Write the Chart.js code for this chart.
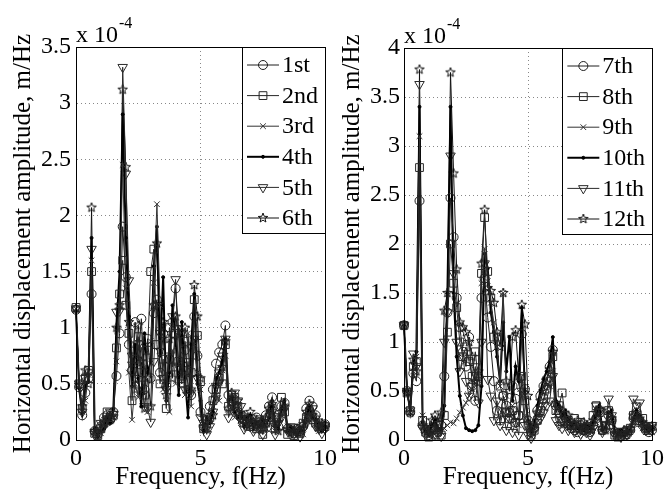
<!DOCTYPE html>
<html>
<head>
<meta charset="utf-8">
<script src="https://cdn.jsdelivr.net/npm/chart.js@4.4.0/dist/chart.umd.min.js"></script>
<style>
body { margin: 0; background: #fff; }
#wrap { position: relative; width: 665px; height: 493px; overflow: hidden; background: #fff; }
canvas { position: absolute; top: 0; }
#left { left: 0; }
#right { left: 332px; }
</style>
</head>
<body>
<div id="wrap">
<canvas id="left" width="345" height="493"></canvas>
<canvas id="right" width="333" height="493"></canvas>
</div>
<script>
// frequency axis, Hz
var freq = [0, 0.125, 0.25, 0.375, 0.5, 0.625, 0.75, 0.875, 1, 1.125,
  1.25, 1.375, 1.5, 1.625, 1.75, 1.875, 2, 2.125, 2.25, 2.375,
  2.5, 2.625, 2.75, 2.875, 3, 3.125, 3.25, 3.375, 3.5, 3.625,
  3.75, 3.875, 4, 4.125, 4.25, 4.375, 4.5, 4.625, 4.75, 4.875,
  5, 5.125, 5.25, 5.375, 5.5, 5.625, 5.75, 5.875, 6, 6.125,
  6.25, 6.375, 6.5, 6.625, 6.75, 6.875, 7, 7.125, 7.25, 7.375,
  7.5, 7.625, 7.75, 7.875, 8, 8.125, 8.25, 8.375, 8.5, 8.625,
  8.75, 8.875, 9, 9.125, 9.25, 9.375, 9.5, 9.625, 9.75, 9.875, 10];

// amplitudes in units of 1e-4 m/Hz
var run1 = [1.16, 0.47, 0.22, 0.42, 0.55, 1.30, 0.08, 0.05, 0.12, 0.20,
  0.22, 0.18, 0.25, 0.57, 0.95, 1.90, 1.45, 0.85, 0.62, 1.05,
  0.70, 1.08, 0.45, 0.90, 0.55, 1.13, 1.25, 0.60, 0.95, 0.48,
  0.72, 1.05, 1.35, 0.98, 0.55, 0.80, 0.62, 0.40, 1.10, 0.75,
  0.25, 0.12, 0.18, 0.30, 0.45, 0.68, 0.78, 0.85, 1.02, 0.40,
  0.35, 0.30, 0.25, 0.20, 0.18, 0.15, 0.17, 0.12, 0.20, 0.16,
  0.10, 0.22, 0.30, 0.38, 0.15, 0.12, 0.30, 0.33, 0.10, 0.08,
  0.06, 0.10, 0.08, 0.12, 0.28, 0.35, 0.30, 0.22, 0.15, 0.12, 0.14];
var run2 = [1.18, 0.50, 0.28, 0.55, 0.62, 1.50, 0.06, 0.04, 0.10, 0.15,
  0.25, 0.20, 0.22, 0.82, 1.30, 1.60, 1.20, 0.95, 0.35, 0.72,
  0.92, 0.60, 0.40, 0.80, 1.50, 1.70, 0.85, 0.50, 0.72, 0.28,
  1.00, 0.65, 0.95, 0.70, 0.50, 0.88, 0.45, 0.60, 1.25, 0.93,
  0.52, 0.10, 0.15, 0.20, 0.35, 0.45, 0.55, 0.50, 0.85, 0.30,
  0.40, 0.38, 0.30, 0.22, 0.15, 0.18, 0.12, 0.14, 0.10, 0.18,
  0.05, 0.15, 0.20, 0.28, 0.10, 0.20, 0.38, 0.25, 0.05, 0.10,
  0.04, 0.08, 0.06, 0.15, 0.20, 0.25, 0.18, 0.15, 0.12, 0.10, 0.12];
var run3 = [1.17, 0.48, 0.25, 0.35, 0.58, 1.60, 0.05, 0.08, 0.06, 0.18,
  0.15, 0.22, 0.20, 0.70, 1.20, 2.45, 1.35, 0.60, 0.18, 0.50,
  0.38, 0.82, 0.65, 0.25, 0.88, 1.40, 2.10, 1.20, 0.45, 0.60,
  0.25, 0.80, 0.50, 1.00, 0.70, 0.40, 0.95, 0.30, 0.85, 0.60,
  0.45, 0.15, 0.08, 0.22, 0.30, 0.40, 0.35, 0.62, 0.75, 0.25,
  0.30, 0.20, 0.28, 0.15, 0.20, 0.10, 0.15, 0.18, 0.08, 0.12,
  0.15, 0.10, 0.25, 0.20, 0.08, 0.15, 0.22, 0.30, 0.12, 0.05,
  0.10, 0.06, 0.12, 0.05, 0.22, 0.18, 0.25, 0.15, 0.08, 0.12, 0.10];
var run4 = [1.15, 0.46, 0.24, 0.48, 0.52, 1.80, 0.10, 0.03, 0.08, 0.10,
  0.20, 0.15, 0.28, 1.00, 1.50, 2.90, 1.80, 1.10, 0.48, 0.85,
  0.55, 0.30, 0.95, 0.60, 0.70, 1.55, 1.90, 0.75, 1.45, 0.35,
  0.60, 1.20, 0.90, 0.40, 1.05, 0.55, 0.20, 0.85, 1.30, 0.50,
  0.35, 0.08, 0.20, 0.15, 0.25, 0.55, 0.60, 0.70, 0.90, 0.35,
  0.38, 0.25, 0.20, 0.25, 0.12, 0.20, 0.22, 0.10, 0.15, 0.12,
  0.18, 0.12, 0.20, 0.35, 0.12, 0.10, 0.28, 0.35, 0.08, 0.12,
  0.08, 0.04, 0.10, 0.08, 0.20, 0.30, 0.20, 0.18, 0.10, 0.08, 0.12];
var run5 = [1.17, 0.50, 0.25, 0.55, 0.60, 1.70, 0.05, 0.06, 0.15, 0.12,
  0.18, 0.25, 0.20, 1.14, 1.15, 3.32, 2.37, 1.42, 0.75, 0.55,
  0.85, 0.50, 0.30, 0.28, 0.16, 0.70, 1.20, 0.95, 0.55, 0.45,
  0.75, 1.10, 1.43, 0.65, 0.95, 0.45, 0.70, 0.42, 0.90, 0.55,
  0.20, 0.15, 0.05, 0.12, 0.25, 0.48, 0.60, 0.75, 0.90, 0.20,
  0.28, 0.42, 0.35, 0.30, 0.10, 0.15, 0.20, 0.08, 0.15, 0.10,
  0.05, 0.18, 0.12, 0.25, 0.05, 0.15, 0.20, 0.28, 0.08, 0.12,
  0.05, 0.08, 0.03, 0.10, 0.15, 0.20, 0.28, 0.12, 0.10, 0.06, 0.10];
var run6 = [1.17, 0.49, 0.30, 0.62, 0.50, 2.07, 0.08, 0.05, 0.10, 0.15,
  0.20, 0.18, 0.24, 1.00, 1.20, 3.12, 2.43, 1.05, 0.68, 0.45,
  1.02, 0.70, 0.28, 0.55, 0.30, 1.20, 1.75, 0.80, 1.05, 0.40,
  0.90, 0.55, 1.10, 0.95, 0.60, 1.00, 0.85, 0.45, 1.38, 1.10,
  0.55, 0.12, 0.10, 0.18, 0.22, 0.38, 0.52, 0.65, 0.88, 0.28,
  0.42, 0.30, 0.35, 0.18, 0.22, 0.12, 0.25, 0.15, 0.18, 0.14,
  0.12, 0.20, 0.28, 0.32, 0.18, 0.08, 0.25, 0.30, 0.10, 0.06,
  0.08, 0.10, 0.05, 0.14, 0.25, 0.32, 0.22, 0.20, 0.12, 0.15, 0.13];
var run7 = [1.17, 0.50, 0.28, 0.68, 0.60, 2.44, 0.15, 0.10, 0.05, 0.12,
  0.18, 0.08, 0.15, 0.65, 1.30, 2.47, 2.07, 1.45, 1.15, 0.90,
  0.75, 1.05, 0.55, 0.40, 0.65, 1.45, 1.65, 1.25, 0.95, 0.60,
  0.30, 0.20, 0.45, 0.35, 0.28, 0.55, 0.42, 0.25, 1.08, 0.52,
  0.20, 0.08, 0.12, 0.30, 0.45, 0.55, 0.62, 0.75, 0.92, 0.35,
  0.28, 0.20, 0.18, 0.15, 0.12, 0.10, 0.08, 0.15, 0.10, 0.12,
  0.08, 0.15, 0.22, 0.30, 0.10, 0.12, 0.25, 0.20, 0.08, 0.05,
  0.04, 0.08, 0.06, 0.10, 0.22, 0.28, 0.20, 0.15, 0.10, 0.08, 0.10];
var run8 = [1.17, 0.48, 0.30, 0.75, 0.80, 2.78, 0.20, 0.08, 0.03, 0.10,
  0.05, 0.15, 0.05, 0.25, 1.10, 2.00, 1.60, 1.35, 1.00, 0.85,
  0.95, 0.80, 0.65, 0.90, 0.60, 1.70, 2.27, 1.72, 1.45, 1.05,
  1.05, 0.55, 0.45, 0.28, 0.22, 0.30, 0.18, 0.25, 0.65, 0.40,
  0.15, 0.05, 0.10, 0.20, 0.30, 0.42, 0.52, 0.60, 0.85, 0.30,
  0.35, 0.48, 0.25, 0.20, 0.15, 0.22, 0.12, 0.18, 0.10, 0.14,
  0.12, 0.25, 0.35, 0.28, 0.10, 0.15, 0.30, 0.20, 0.05, 0.03,
  0.08, 0.05, 0.10, 0.12, 0.25, 0.20, 0.18, 0.22, 0.12, 0.10, 0.14];
var run9 = [1.17, 0.50, 0.28, 0.70, 0.85, 3.10, 0.25, 0.12, 0.08, 0.05,
  0.10, 0.06, 0.08, 0.12, 0.15, 0.18, 0.17, 0.22, 0.28, 0.33,
  0.38, 0.45, 0.52, 0.58, 0.61, 1.60, 1.95, 1.62, 1.40, 1.20,
  0.95, 0.55, 1.50, 0.45, 0.25, 0.35, 0.20, 0.15, 0.60, 0.25,
  0.10, 0.04, 0.12, 0.25, 0.30, 0.35, 0.40, 0.55, 0.70, 0.25,
  0.20, 0.15, 0.20, 0.12, 0.10, 0.15, 0.08, 0.12, 0.05, 0.10,
  0.06, 0.12, 0.18, 0.22, 0.08, 0.10, 0.20, 0.18, 0.06, 0.04,
  0.05, 0.07, 0.04, 0.08, 0.18, 0.25, 0.22, 0.12, 0.08, 0.10, 0.08];
var run10 = [1.17, 0.50, 0.30, 0.78, 0.90, 3.40, 0.18, 0.10, 0.05, 0.15,
  0.20, 0.12, 0.10, 0.35, 1.50, 3.40, 1.50, 0.85, 0.45, 0.25,
  0.12, 0.10, 0.09, 0.10, 0.15, 0.55, 1.90, 1.75, 1.30, 1.10,
  0.85, 0.60, 1.20, 0.70, 1.05, 0.40, 0.75, 0.60, 1.35, 0.50,
  0.20, 0.08, 0.15, 0.35, 0.50, 0.62, 0.70, 0.80, 1.05, 0.40,
  0.35, 0.25, 0.30, 0.20, 0.15, 0.18, 0.12, 0.14, 0.10, 0.15,
  0.12, 0.18, 0.25, 0.35, 0.10, 0.12, 0.28, 0.30, 0.08, 0.06,
  0.10, 0.05, 0.08, 0.10, 0.20, 0.30, 0.25, 0.18, 0.12, 0.10, 0.12];
var run11 = [1.17, 0.50, 0.30, 0.88, 0.75, 3.63, 0.12, 0.05, 0.08, 0.12,
  0.06, 0.10, 0.04, 1.00, 1.30, 2.90, 1.70, 1.00, 0.70, 0.85,
  0.60, 0.45, 0.55, 0.75, 0.38, 1.00, 1.80, 0.62, 0.45, 0.20,
  0.40, 0.15, 0.30, 0.10, 0.22, 0.08, 0.18, 0.05, 0.50, 0.15,
  0.05, 0.02, 0.10, 0.18, 0.22, 0.28, 0.35, 0.40, 0.65, 0.20,
  0.15, 0.12, 0.20, 0.10, 0.15, 0.08, 0.12, 0.06, 0.10, 0.08,
  0.05, 0.12, 0.35, 0.30, 0.08, 0.15, 0.42, 0.25, 0.05, 0.08,
  0.03, 0.06, 0.05, 0.10, 0.42, 0.35, 0.38, 0.15, 0.10, 0.12, 0.15];
var run12 = [1.17, 0.49, 0.28, 0.82, 0.70, 3.78, 0.15, 0.12, 0.06, 0.20,
  0.25, 0.18, 0.28, 1.32, 1.50, 3.75, 2.72, 1.74, 1.20, 1.15,
  1.10, 1.00, 0.85, 0.60, 0.70, 1.80, 2.35, 1.55, 1.52, 1.40,
  1.10, 0.95, 1.50, 0.60, 0.50, 1.05, 1.12, 0.65, 1.38, 1.18,
  0.45, 0.12, 0.15, 0.28, 0.40, 0.50, 0.58, 0.72, 0.90, 0.38,
  0.32, 0.30, 0.22, 0.25, 0.18, 0.15, 0.20, 0.12, 0.18, 0.15,
  0.10, 0.20, 0.28, 0.32, 0.12, 0.10, 0.30, 0.22, 0.10, 0.05,
  0.06, 0.10, 0.08, 0.12, 0.25, 0.28, 0.22, 0.18, 0.15, 0.12, 0.14];

var leftNames = ['1st', '2nd', '3rd', '4th', '5th', '6th'];
var rightNames = ['7th', '8th', '9th', '10th', '11th', '12th'];
var leftTicksMax = 3.5;
var rightTicksMax = 4;

var FONT = '"Liberation Serif", "Times New Roman", serif';

function makeStar(r, color) {
  var c = document.createElement('canvas');
  var s = Math.ceil(r * 2 + 2);
  c.width = s; c.height = s;
  var g = c.getContext('2d');
  g.strokeStyle = color;
  g.lineWidth = 1;
  g.beginPath();
  for (var i = 0; i < 10; i++) {
    var ang = -Math.PI / 2 + i * Math.PI / 5;
    var rr = i % 2 ? r * 0.42 : r;
    var px = s / 2 + rr * Math.cos(ang), py = s / 2 + rr * Math.sin(ang);
    if (i) g.lineTo(px, py); else g.moveTo(px, py);
  }
  g.closePath();
  g.stroke();
  return c;
}

// marker / line style for the six runs of each panel
var styles = [
  { color: '#1e1e1e', width: 1, point: 'circle', r: 4.5, rot: 0, fill: 'rgba(0,0,0,0)' },
  { color: '#262626', width: 1, point: 'rect', r: 5.5, rot: 0, fill: 'rgba(0,0,0,0)' },
  { color: '#333', width: 1, point: 'crossRot', r: 4, rot: 0, fill: 'rgba(0,0,0,0)' },
  { color: '#000', width: 2, point: 'circle', r: 1.5, rot: 0, fill: '#000' },
  { color: '#2a2a2a', width: 1, point: 'triangle', r: 5.5, rot: 180, fill: 'rgba(0,0,0,0)' },
  { color: '#111', width: 1, point: makeStar(5, '#111'), r: 5, rot: 0, fill: 'rgba(0,0,0,0)' }
];

function buildSets(names, runs) {
  return runs.map(function(vals, k) {
    var st = styles[k];
    return {
      label: names[k],
      data: freq.map(function(f, i) { return { x: f, y: vals[i] }; }),
      borderColor: st.color,
      borderWidth: st.width,
      pointStyle: st.point,
      pointRadius: st.r,
      pointRotation: st.rot,
      pointBorderColor: st.color,
      pointBackgroundColor: st.fill,
      pointBorderWidth: 1,
      tension: 0,
      fill: false,
      clip: 8
    };
  });
}

var framePlugin = {
  id: 'frame',
  afterDraw: function(chart) {
    var a = chart.chartArea, ctx = chart.ctx;
    ctx.save();
    ctx.strokeStyle = '#000';
    ctx.lineWidth = 1;
    ctx.strokeRect(Math.round(a.left) + 0.5, Math.round(a.top) + 0.5, Math.round(a.right - a.left), Math.round(a.bottom - a.top));

    // exponent label
    ctx.fillStyle = '#000';
    ctx.textBaseline = 'alphabetic';
    ctx.textAlign = 'left';
    ctx.font = '24px ' + FONT;
    ctx.fillText('x 10', a.left, a.top - 5);
    var w = ctx.measureText('x 10').width;
    ctx.font = '16px ' + FONT;
    ctx.fillText('-4', a.left + w + 1, a.top - 19);

    // legend box in the top right corner
    var sets = chart.data.datasets;
    ctx.font = '24px ' + FONT;
    var maxW = 0;
    sets.forEach(function(d) { maxW = Math.max(maxW, ctx.measureText(d.label).width); });
    var boxR = a.right, boxT = a.top;
    var boxL = boxR - 7 - maxW - 3 - 32 - 5;
    var boxB = boxT + 186;
    ctx.fillStyle = '#fff';
    ctx.fillRect(boxL, boxT, boxR - boxL, boxB - boxT);
    ctx.strokeStyle = '#000';
    ctx.lineWidth = 1;
    ctx.strokeRect(Math.round(boxL) + 0.5, boxT + 0.5, Math.round(boxR - boxL), boxB - boxT);
    sets.forEach(function(d, k) {
      var y = boxT + 18 + k * 30.6;
      var x1 = boxL + 5, x2 = x1 + 32;
      ctx.strokeStyle = d.borderColor;
      ctx.lineWidth = d.borderWidth;
      ctx.beginPath();
      ctx.moveTo(x1, y);
      ctx.lineTo(x2, y);
      ctx.stroke();
      ctx.strokeStyle = d.pointBorderColor;
      ctx.fillStyle = d.pointBackgroundColor;
      ctx.lineWidth = 1;
      Chart.helpers.drawPoint(ctx, {
        pointStyle: d.pointStyle, rotation: d.pointRotation, radius: d.pointRadius, borderWidth: 1
      }, (x1 + x2) / 2, y);
      ctx.fillStyle = '#000';
      ctx.font = '24px ' + FONT;
      ctx.textBaseline = 'middle';
      ctx.fillText(d.label, x2 + 3, y + 1);
    });
    ctx.restore();
  }
};

function makeChart(id, names, runs, ymax, opts) {
  return new Chart(document.getElementById(id), {
    type: 'line',
    data: { datasets: buildSets(names, runs) },
    plugins: [framePlugin],
    options: {
      responsive: false,
      animation: false,
      events: [],
      layout: { padding: { left: 0, top: opts.top, right: opts.right, bottom: 0 } },
      plugins: { legend: { display: false }, tooltip: { enabled: false } },
      scales: {
        x: {
          type: 'linear', min: 0, max: 10,
          ticks: { stepSize: 5, padding: 4, color: '#000', maxRotation: 0, autoSkip: false,
            font: { family: FONT, size: 24 } },
          grid: { color: '#888', lineWidth: 1, drawTicks: false },
          border: { display: true, color: '#000', width: 1, dash: [1, 3] },
          title: { display: true, text: 'Frequency, f(Hz)', color: '#000',
            font: { family: FONT, size: 25 }, padding: { top: 0, bottom: 1 } },
          afterFit: function(s) { s.height = 53; s.paddingLeft = 0; s.paddingRight = 0; }
        },
        y: {
          min: 0, max: ymax,
          ticks: { stepSize: 0.5, padding: opts.tickPad, color: '#000',
            font: { family: FONT, size: 24 },
            callback: function(v) { return String(v); } },
          grid: { color: '#888', lineWidth: 1, drawTicks: false },
          border: { display: true, color: '#000', width: 1, dash: [1, 3] },
          title: { display: true, text: 'Horizontal displacement amplitude, m/Hz', color: '#000',
            font: { family: FONT, size: 25 }, padding: { top: opts.titlePad, bottom: 0 } },
          afterFit: function(s) { s.width = opts.yWidth; s.paddingTop = 0; s.paddingBottom = 0; }
        }
      }
    }
  });
}

makeChart('left', leftNames, [run1, run2, run3, run4, run5, run6], leftTicksMax,
  { top: 47, right: 20, yWidth: 76, tickPad: 5, titlePad: 8 });
makeChart('right', rightNames, [run7, run8, run9, run10, run11, run12], rightTicksMax,
  { top: 48, right: 13, yWidth: 72, tickPad: 4, titlePad: 5 });
</script>
</body>
</html>
